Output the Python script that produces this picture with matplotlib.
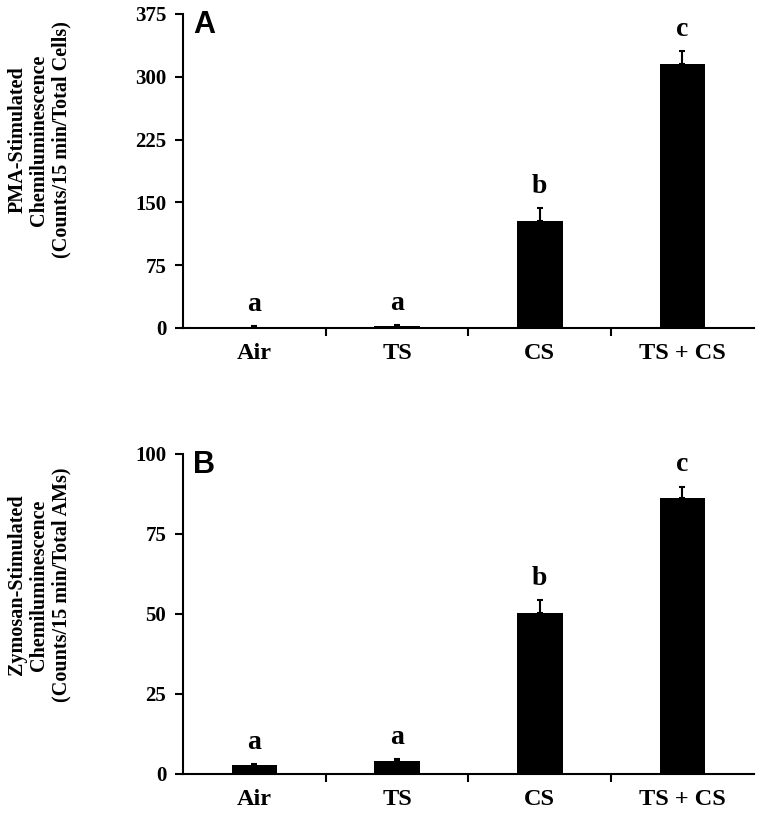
import matplotlib.pyplot as plt

# data
groups = ['Air', 'TS', 'CS', 'TS + CS']
pma_mean = [1.5, 2.0, 128, 315]
pma_err = [0.5, 1.0, 15, 16]
zym_mean = [2.8, 3.9, 50.2, 86.3]
zym_err = [0.3, 0.7, 4.2, 3.5]
letters = ['a', 'a', 'b', 'c']

plt.rcParams['font.family'] = ['Liberation Serif', 'DejaVu Serif']
plt.rcParams['font.weight'] = 'bold'

fig = plt.figure(figsize=(7.6, 8.13), dpi=100)
ax_a = fig.add_axes([0.2408, 0.5966, 0.751, 0.3862])
ax_b = fig.add_axes([0.2408, 0.048, 0.751, 0.3936])

panels = [
    (ax_a, pma_mean, pma_err, 375, 75, 'A', 0.599,
     'PMA-Stimulated\nChemiluminescence\n(Counts/15 min/Total Cells)'),
    (ax_b, zym_mean, zym_err, 100, 25, 'B', 0.59,
     'Zymosan-Stimulated\nChemiluminescence\n(Counts/15 min/Total AMs)'),
]

x = [i + 0.5 for i in range(len(groups))]

for ax, mean, err, ymax, step, tag, label_y, ylabel in panels:
    ax.bar(x, mean, width=0.32, color='black')
    ax.errorbar(x, mean, yerr=[[0] * len(err), err], fmt='none',
                ecolor='black', elinewidth=1.5, capsize=2.3, capthick=1.5)
    for xi, m, e, lt in zip(x, mean, err, letters):
        ax.annotate(lt, (xi, m + e), xytext=(0, 11), textcoords='offset points',
                    ha='center', va='baseline', fontsize=20,
                    fontweight='bold', annotation_clip=False)
    ax.set_xlim(0, 4)
    ax.set_ylim(0, ymax)
    ax.set_yticks(range(0, ymax + 1, step))
    ax.set_xticks([1, 2, 3])
    ax.set_xticklabels([])
    ax.set_xticks(x, minor=True)
    ax.set_xticklabels(groups, minor=True, fontsize=17.5, fontweight='bold')
    ax.tick_params(axis='x', which='minor', length=0, pad=11)
    ax.tick_params(axis='x', which='major', direction='out', length=6, width=1.5)
    ax.tick_params(axis='y', direction='out', length=6, width=1.5,
                   labelsize=15, pad=6)
    for lbl in ax.get_yticklabels():
        lbl.set_fontweight('bold')
    for s in ['top', 'right']:
        ax.spines[s].set_visible(False)
    for s in ['left', 'bottom']:
        ax.spines[s].set_linewidth(1.5)
    ax.set_ylabel(ylabel, fontsize=14.5, fontweight='bold', linespacing=1.15)
    ax.yaxis.set_label_coords(-0.195, label_y)
    ax.text(0.018, 0.94, tag, transform=ax.transAxes, ha='left', va='baseline',
            fontsize=22, fontweight='bold', family='Liberation Sans')

fig.savefig('out.png', dpi=100)
